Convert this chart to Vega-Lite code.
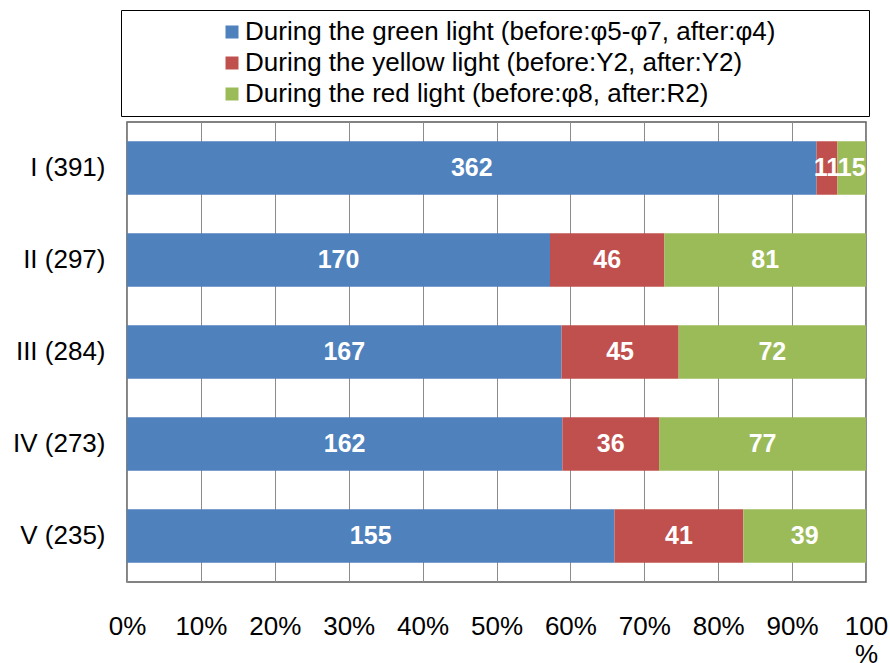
{
  "$schema": "https://vega.github.io/schema/vega-lite/v6.json",
  "width": 739,
  "height": 460,
  "autosize": {"type": "none"},
  "padding": {"left": 127, "top": 122, "right": 24, "bottom": 81},
  "background": "white",
  "config": {
    "font": "Liberation Sans",
    "view": {"stroke": "#5a5a5a", "strokeWidth": 1.5}
  },
  "data": {
    "values": [
      {"region": "I (391)", "cat": "During the green light (before:φ5-φ7, after:φ4)", "k": 1, "count": 362},
      {"region": "I (391)", "cat": "During the yellow light (before:Y2, after:Y2)", "k": 2, "count": 11},
      {"region": "I (391)", "cat": "During the red light (before:φ8,  after:R2)", "k": 3, "count": 15},
      {"region": "II (297)", "cat": "During the green light (before:φ5-φ7, after:φ4)", "k": 1, "count": 170},
      {"region": "II (297)", "cat": "During the yellow light (before:Y2, after:Y2)", "k": 2, "count": 46},
      {"region": "II (297)", "cat": "During the red light (before:φ8,  after:R2)", "k": 3, "count": 81},
      {"region": "III (284)", "cat": "During the green light (before:φ5-φ7, after:φ4)", "k": 1, "count": 167},
      {"region": "III (284)", "cat": "During the yellow light (before:Y2, after:Y2)", "k": 2, "count": 45},
      {"region": "III (284)", "cat": "During the red light (before:φ8,  after:R2)", "k": 3, "count": 72},
      {"region": "IV (273)", "cat": "During the green light (before:φ5-φ7, after:φ4)", "k": 1, "count": 162},
      {"region": "IV (273)", "cat": "During the yellow light (before:Y2, after:Y2)", "k": 2, "count": 36},
      {"region": "IV (273)", "cat": "During the red light (before:φ8,  after:R2)", "k": 3, "count": 77},
      {"region": "V (235)", "cat": "During the green light (before:φ5-φ7, after:φ4)", "k": 1, "count": 155},
      {"region": "V (235)", "cat": "During the yellow light (before:Y2, after:Y2)", "k": 2, "count": 41},
      {"region": "V (235)", "cat": "During the red light (before:φ8,  after:R2)", "k": 3, "count": 39}
    ]
  },
  "transform": [
    {"stack": "count", "groupby": ["region"], "sort": [{"field": "k", "order": "ascending"}], "as": ["x0", "x1"], "offset": "normalize"},
    {"calculate": "(datum.x0 + datum.x1) / 2", "as": "mid"}
  ],
  "encoding": {
    "y": {
      "field": "region",
      "type": "nominal",
      "sort": ["I (391)", "II (297)", "III (284)", "IV (273)", "V (235)"],
      "scale": {"paddingInner": 0.42, "paddingOuter": 0.21},
      "axis": {
        "title": null,
        "ticks": false,
        "domain": false,
        "labelFontSize": 26,
        "labelColor": "black",
        "labelPadding": 22
      }
    }
  },
  "layer": [
    {
      "mark": {"type": "bar"},
      "encoding": {
        "x": {
          "field": "x0",
          "type": "quantitative",
          "scale": {"domain": [0, 1], "nice": false},
          "axis": {
            "title": null,
            "values": [0, 0.1, 0.2, 0.3, 0.4, 0.5, 0.6, 0.7, 0.8, 0.9, 1],
            "labelExpr": "datum.value == 1 ? ['100', '%'] : format(datum.value, '.0%')",
            "labelFontSize": 26,
            "labelColor": "black",
            "labelPadding": 31,
            "labelLineHeight": 28,
            "labelFlush": false,
            "labelOverlap": false,
            "ticks": false,
            "domain": false,
            "grid": true,
            "gridColor": "#8c8c8c",
            "gridWidth": 1
          }
        },
        "x2": {"field": "x1"},
        "color": {
          "field": "cat",
          "type": "nominal",
          "sort": ["During the green light (before:φ5-φ7, after:φ4)", "During the yellow light (before:Y2, after:Y2)", "During the red light (before:φ8,  after:R2)"],
          "scale": {"range": ["#4F81BD", "#C0504D", "#9BBB59"]},
          "legend": {
            "title": "\u00a0",
            "titleOrient": "right",
            "titlePadding": 85,
            "titleFontSize": 12,
            "orient": "none",
            "legendX": -6,
            "legendY": -112,
            "strokeColor": "black",
            "padding": 9,
            "symbolType": "square",
            "symbolSize": 169,
            "symbolStrokeWidth": 0,
            "symbolOffset": 89,
            "labelFontSize": 26,
            "labelColor": "black",
            "labelOffset": 0,
            "labelLimit": 700,
            "rowPadding": 5
          }
        }
      }
    },
    {
      "mark": {"type": "text", "color": "white", "fontWeight": "bold", "fontSize": 25, "baseline": "middle", "align": "center"},
      "encoding": {
        "x": {"field": "mid", "type": "quantitative"},
        "text": {"field": "count", "type": "quantitative"}
      }
    }
  ]
}
